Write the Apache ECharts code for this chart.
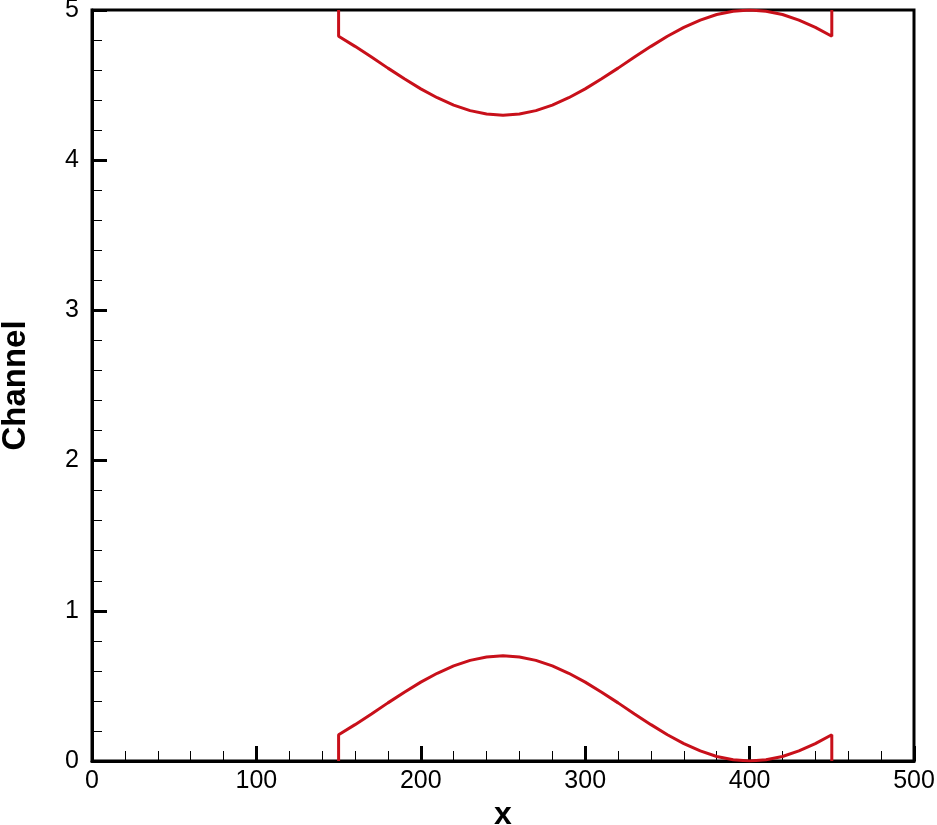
<!DOCTYPE html>
<html>
<head>
<meta charset="utf-8">
<script src="https://cdn.jsdelivr.net/npm/echarts@6/dist/echarts.min.js"></script>
<style>html,body{margin:0;padding:0;background:#fff}#c{width:937px;height:825px}</style>
</head>
<body>
<div id="c"></div>
<script>
const xVals = [150,150,160,170,180,190,200,210,220,230,240,250,260,270,280,290,300,310,320,330,340,350,360,370,380,390,400,410,420,430,440,450,450];
const lowerWall = [0,0.175,0.242,0.313,0.387,0.458,0.525,0.584,0.633,0.670,0.692,0.700,0.692,0.670,0.633,0.584,0.525,0.458,0.387,0.313,0.242,0.175,0.116,0.067,0.030,0.008,0,0.008,0.030,0.067,0.116,0.175,0];
const upperWall = [5,4.825,4.758,4.687,4.613,4.542,4.475,4.416,4.367,4.330,4.308,4.300,4.308,4.330,4.367,4.416,4.475,4.542,4.613,4.687,4.758,4.825,4.884,4.933,4.970,4.992,5,4.992,4.970,4.933,4.884,4.825,5];
const xTicks = [0,100,200,300,400,500];
const yTicks = [0,1,2,3,4,5];

const chart = echarts.init(document.getElementById('c'));
const font = "'Liberation Sans', Arial, sans-serif";
const lineColor = '#c8101a';
chart.setOption({
  animation: false,
  grid: {left: 92, right: 23, top: 10, bottom: 64, show: true, borderColor: '#000', borderWidth: 3, containLabel: false, outerBoundsMode: 'none'},
  xAxis: {
    type: 'value', min: xTicks[0], max: xTicks[xTicks.length-1], interval: 100,
    name: 'x', nameLocation: 'middle', nameGap: 38,
    nameTextStyle: {fontFamily: font, fontWeight: 'bold', fontSize: 32, color: '#000'},
    axisLine: {show: true, lineStyle: {color: '#000', width: 3}},
    axisTick: {show: true, inside: true, length: 15, lineStyle: {color: '#000', width: 3}},
    minorTick: {show: true, splitNumber: 5, length: 10, lineStyle: {color: '#000', width: 1}},
    axisLabel: {fontFamily: font, fontSize: 25, color: '#000', margin: 8},
    splitLine: {show: false}
  },
  yAxis: {
    type: 'value', min: yTicks[0], max: yTicks[yTicks.length-1], interval: 1,
    name: 'Channel', nameLocation: 'middle', nameGap: 60, nameRotate: 90,
    nameTextStyle: {fontFamily: font, fontWeight: 'bold', fontSize: 33, color: '#000'},
    axisLine: {show: true, lineStyle: {color: '#000', width: 3}},
    axisTick: {show: true, inside: true, length: 15, lineStyle: {color: '#000', width: 3}},
    minorTick: {show: true, splitNumber: 5, length: 10, lineStyle: {color: '#000', width: 1}},
    axisLabel: {fontFamily: font, fontSize: 25, color: '#000', margin: 13},
    splitLine: {show: false}
  },
  series: [
    {type: 'line', data: xVals.map((x,i)=>[x, lowerWall[i]]), showSymbol: false, lineStyle: {color: lineColor, width: 3}, z: 1},
    {type: 'line', data: xVals.map((x,i)=>[x, upperWall[i]]), showSymbol: false, lineStyle: {color: lineColor, width: 3}, z: 1}
  ]
});
</script>
</body>
</html>
